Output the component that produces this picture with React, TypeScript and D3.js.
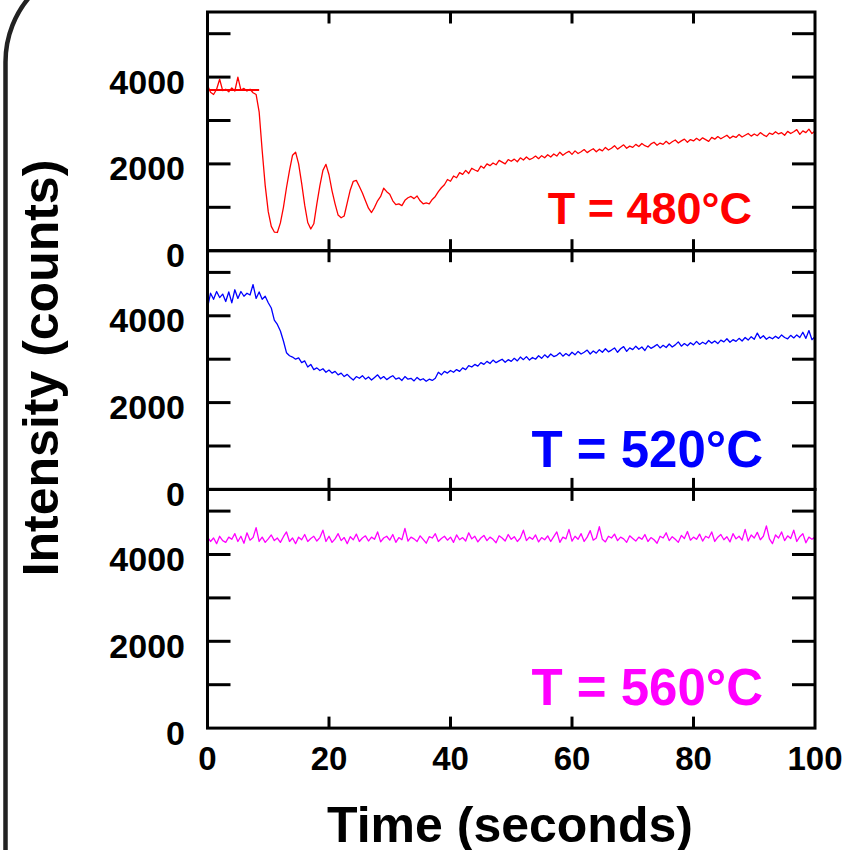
import React from 'react';
import * as d3 from 'd3';

// time sampling step (seconds)
const T_STEP = 0.5;

// T = 480°C (red)
const red480 = [
  3810, 3650, 3600, 3720, 3950, 3690, 3720, 3660, 3750, 3680,
  4000, 3700, 3740, 3680, 3720, 3640, 3600, 3200, 2310, 1500,
  900, 560, 430, 420, 640, 1000, 1450, 1850, 2200, 2270,
  2000, 1550, 1050, 650, 500, 620, 1080, 1500, 1850, 1990,
  1750, 1380, 1080, 820, 760, 800, 1100, 1400, 1600, 1620,
  1480, 1330, 1150, 980, 880, 1000, 1150, 1250, 1440, 1360,
  1300, 1150, 1060, 1080, 1040, 1160, 1220, 1250, 1200, 1260,
  1150, 1080, 1100, 1080, 1180, 1250, 1360, 1450, 1520, 1640,
  1600, 1720, 1680, 1800, 1760, 1850, 1780, 1900, 1860, 1830,
  1950, 1900, 2000, 1960, 2020, 1980, 2080, 2040, 2000, 2100,
  2060, 2110, 2050, 2140, 2090, 2160, 2100, 2130, 2180, 2120,
  2190, 2140, 2210, 2160, 2230, 2180, 2270, 2200, 2250, 2290,
  2220, 2300, 2240, 2280, 2330, 2260, 2310, 2350, 2280, 2340,
  2300, 2380, 2320, 2360, 2420, 2340, 2390, 2440, 2360, 2410,
  2380, 2450, 2400, 2470, 2420, 2390, 2460, 2500, 2430, 2480,
  2450, 2520, 2460, 2510, 2550, 2480, 2530, 2570, 2500, 2560,
  2530, 2590, 2540, 2600, 2560, 2520, 2610, 2570, 2630, 2580,
  2620, 2660, 2590, 2640, 2610, 2680, 2620, 2660, 2700, 2640,
  2690, 2650, 2720, 2670, 2630, 2710, 2680, 2740, 2690, 2720,
  2660, 2750, 2700, 2740, 2790, 2680, 2760, 2720, 2800, 2700,
  2760,
];

// T = 520°C (blue)
const blue520 = [
  4180, 4520, 4380, 4560, 4420, 4500, 4330, 4550, 4300, 4600,
  4400, 4560, 4450, 4520, 4480, 4720, 4400, 4550, 4380, 4450,
  4300, 4180, 3900, 3800, 3650, 3420, 3150, 3080, 3050, 3000,
  3030, 2920, 2960, 2820, 2880, 2760, 2800, 2740, 2780, 2700,
  2750, 2680, 2720, 2640, 2680, 2600, 2650, 2580, 2520, 2600,
  2560, 2620, 2540, 2590, 2520, 2580, 2640, 2550, 2600, 2530,
  2580, 2620, 2540, 2570, 2510, 2600, 2540, 2560, 2500, 2580,
  2520, 2550, 2490, 2540, 2510, 2560, 2700, 2640, 2720, 2680,
  2740, 2700, 2760, 2720, 2800, 2760, 2850, 2820, 2880, 2840,
  2920, 2880, 2950, 2900, 2980, 2920, 2960, 3000, 2930, 2990,
  2950, 3020, 2960, 3050, 2990, 3060, 2980, 3040, 3000, 3080,
  3020, 3100, 3040, 3120, 3060, 3090, 3150, 3070, 3130, 3080,
  3160, 3100, 3180, 3120, 3160, 3210, 3120, 3190, 3140, 3220,
  3160, 3240, 3170, 3210, 3260, 3160, 3240, 3290, 3180, 3260,
  3220, 3300, 3230, 3280, 3200, 3310, 3250, 3290, 3340, 3260,
  3320, 3270, 3350, 3280, 3330, 3400, 3300, 3360, 3310, 3380,
  3330, 3410, 3340, 3390, 3350, 3430, 3370, 3420, 3360, 3440,
  3400, 3470, 3390, 3450, 3410, 3480, 3420, 3500, 3440, 3520,
  3460, 3600, 3480, 3540, 3460, 3510, 3470, 3530, 3480, 3560,
  3500, 3470, 3550, 3490, 3560, 3500, 3620, 3480, 3660, 3450,
  3520,
];

// T = 560°C (magenta)
const magenta560 = [
  4400, 4300, 4380, 4250, 4420, 4320, 4280, 4400, 4350, 4480,
  4300, 4420, 4260, 4500, 4330, 4390, 4620, 4300, 4400, 4280,
  4360, 4450, 4320, 4380, 4280, 4410, 4520, 4300, 4380, 4250,
  4400, 4340, 4460, 4300, 4370, 4420, 4310, 4390, 4560, 4300,
  4420, 4280, 4360, 4480, 4320, 4390, 4250, 4410, 4340, 4470,
  4300, 4380, 4430, 4310, 4400, 4350, 4520, 4290, 4380, 4420,
  4330, 4460, 4280, 4390, 4340, 4600, 4310, 4400, 4360, 4300,
  4430, 4350, 4260, 4410, 4380, 4480, 4300, 4370, 4420, 4330,
  4400, 4280, 4450, 4340, 4390, 4310, 4500, 4360, 4420, 4290,
  4380, 4440, 4320, 4400, 4350, 4270, 4430, 4380, 4310, 4460,
  4350, 4410, 4300, 4380, 4560, 4320, 4400, 4350, 4450, 4290,
  4390, 4340, 4430, 4300, 4410, 4520, 4280, 4400, 4360, 4580,
  4310, 4420, 4350, 4480, 4300, 4400, 4550, 4330, 4380, 4640,
  4350, 4290, 4420, 4380, 4470, 4320, 4400, 4360, 4280, 4430,
  4370, 4310, 4400, 4350, 4460, 4300, 4390, 4340, 4260, 4420,
  4380, 4500, 4320, 4410, 4350, 4280, 4440, 4370, 4530, 4330,
  4400, 4350, 4470, 4310, 4420, 4380, 4520, 4300, 4400, 4460,
  4340, 4410, 4290, 4480, 4360, 4420, 4330, 4580, 4310, 4450,
  4380, 4510, 4340, 4420, 4660, 4360, 4250, 4450, 4380, 4520,
  4320, 4430, 4370, 4560, 4300, 4410, 4480, 4270, 4400, 4350,
  4400,
];

// flat reference segment in the 480°C panel
const redMarkerLevel = 3700;
const redMarkerSpan = [0, 8.5];

const xTicks = [0, 20, 40, 60, 80, 100];
const yMinorTicks = [1000, 2000, 3000, 4000, 5000];
const yLabelTicks = [0, 2000, 4000];

const panels = [
  { label: 'T = 480\u00B0C', color: '#ff0000', values: red480, fontSize: 45, labelX: 752, labelY: 224 },
  { label: 'T = 520\u00B0C', color: '#0000ff', values: blue520, fontSize: 51, labelX: 763, labelY: 467 },
  { label: 'T = 560\u00B0C', color: '#ff00ff', values: magenta560, fontSize: 51, labelX: 763, labelY: 705 },
];

const W = 858;
const H = 850;
const left = 207.5;
const right = 815;
const top0 = 12;
const panelH = 238.7;
const FONT = '"Liberation Sans", Arial, Helvetica, sans-serif';

export default function App() {
  const x = d3.scaleLinear().domain([0, 100]).range([left, right]);
  const yScales = panels.map((_, i) =>
    d3.scaleLinear().domain([0, 5500]).range([top0 + (i + 1) * panelH, top0 + i * panelH])
  );

  return (
    <svg width={W} height={H} style={{ position: 'absolute', left: 0, top: 0, background: '#fff' }}>
      {/* outer frame of the figure */}
      <path d="M 5.5 860 L 5.5 62 A 100 100 0 0 1 105.5 -38" fill="none" stroke="#222" strokeWidth={4.5} />

      {panels.map((p, i) => {
        const y = yScales[i];
        const line = d3
          .line<number>()
          .x((_, j) => x(j * T_STEP))
          .y((v) => y(v));
        const pTop = y(5500);
        const pBot = y(0);
        return (
          <g key={i}>
            <path d={line(p.values) || ''} fill="none" stroke={p.color} strokeWidth={1.3} strokeLinejoin="round" />
            {i === 0 && (
              <line
                x1={x(redMarkerSpan[0])}
                x2={x(redMarkerSpan[1])}
                y1={y(redMarkerLevel)}
                y2={y(redMarkerLevel)}
                stroke={p.color}
                strokeWidth={2}
              />
            )}
            {/* frame */}
            <rect x={left} y={pTop} width={right - left} height={pBot - pTop} fill="none" stroke="#000" strokeWidth={3} />
            {/* y ticks */}
            {yMinorTicks.map((t) => (
              <g key={'yt' + t}>
                <line x1={left} x2={left + 23} y1={y(t)} y2={y(t)} stroke="#000" strokeWidth={3} />
                <line x1={right - 23} x2={right} y1={y(t)} y2={y(t)} stroke="#000" strokeWidth={3} />
              </g>
            ))}
            {/* x ticks */}
            {xTicks.slice(1, -1).map((t) => (
              <g key={'xt' + t}>
                <line x1={x(t)} x2={x(t)} y1={pTop} y2={pTop + 11.5} stroke="#000" strokeWidth={3} />
                <line x1={x(t)} x2={x(t)} y1={pBot - 11.5} y2={pBot} stroke="#000" strokeWidth={3} />
              </g>
            ))}
            {/* y labels */}
            {yLabelTicks.map((t) => (
              <text
                key={'yl' + t}
                x={185}
                y={y(t) + 16.5}
                textAnchor="end"
                fontFamily={FONT}
                fontWeight="bold"
                fontSize={34}
                fill="#000"
              >
                {t}
              </text>
            ))}
            <text
              x={p.labelX}
              y={p.labelY}
              textAnchor="end"
              fontFamily={FONT}
              fontWeight="bold"
              fontSize={p.fontSize}
              fill={p.color}
            >
              {p.label}
            </text>
          </g>
        );
      })}

      {/* x tick labels */}
      {xTicks.map((t) => (
        <text
          key={'xl' + t}
          x={x(t)}
          y={770}
          textAnchor="middle"
          fontFamily={FONT}
          fontWeight="bold"
          fontSize={33}
          fill="#000"
        >
          {t}
        </text>
      ))}

      <text x={510} y={842} textAnchor="middle" fontFamily={FONT} fontWeight="bold" fontSize={50} fill="#000">
        Time (seconds)
      </text>
      <text
        transform="translate(58,368) rotate(-90)"
        textAnchor="middle"
        fontFamily={FONT}
        fontWeight="bold"
        fontSize={50}
        fill="#000"
      >
        Intensity (counts)
      </text>
    </svg>
  );
}
